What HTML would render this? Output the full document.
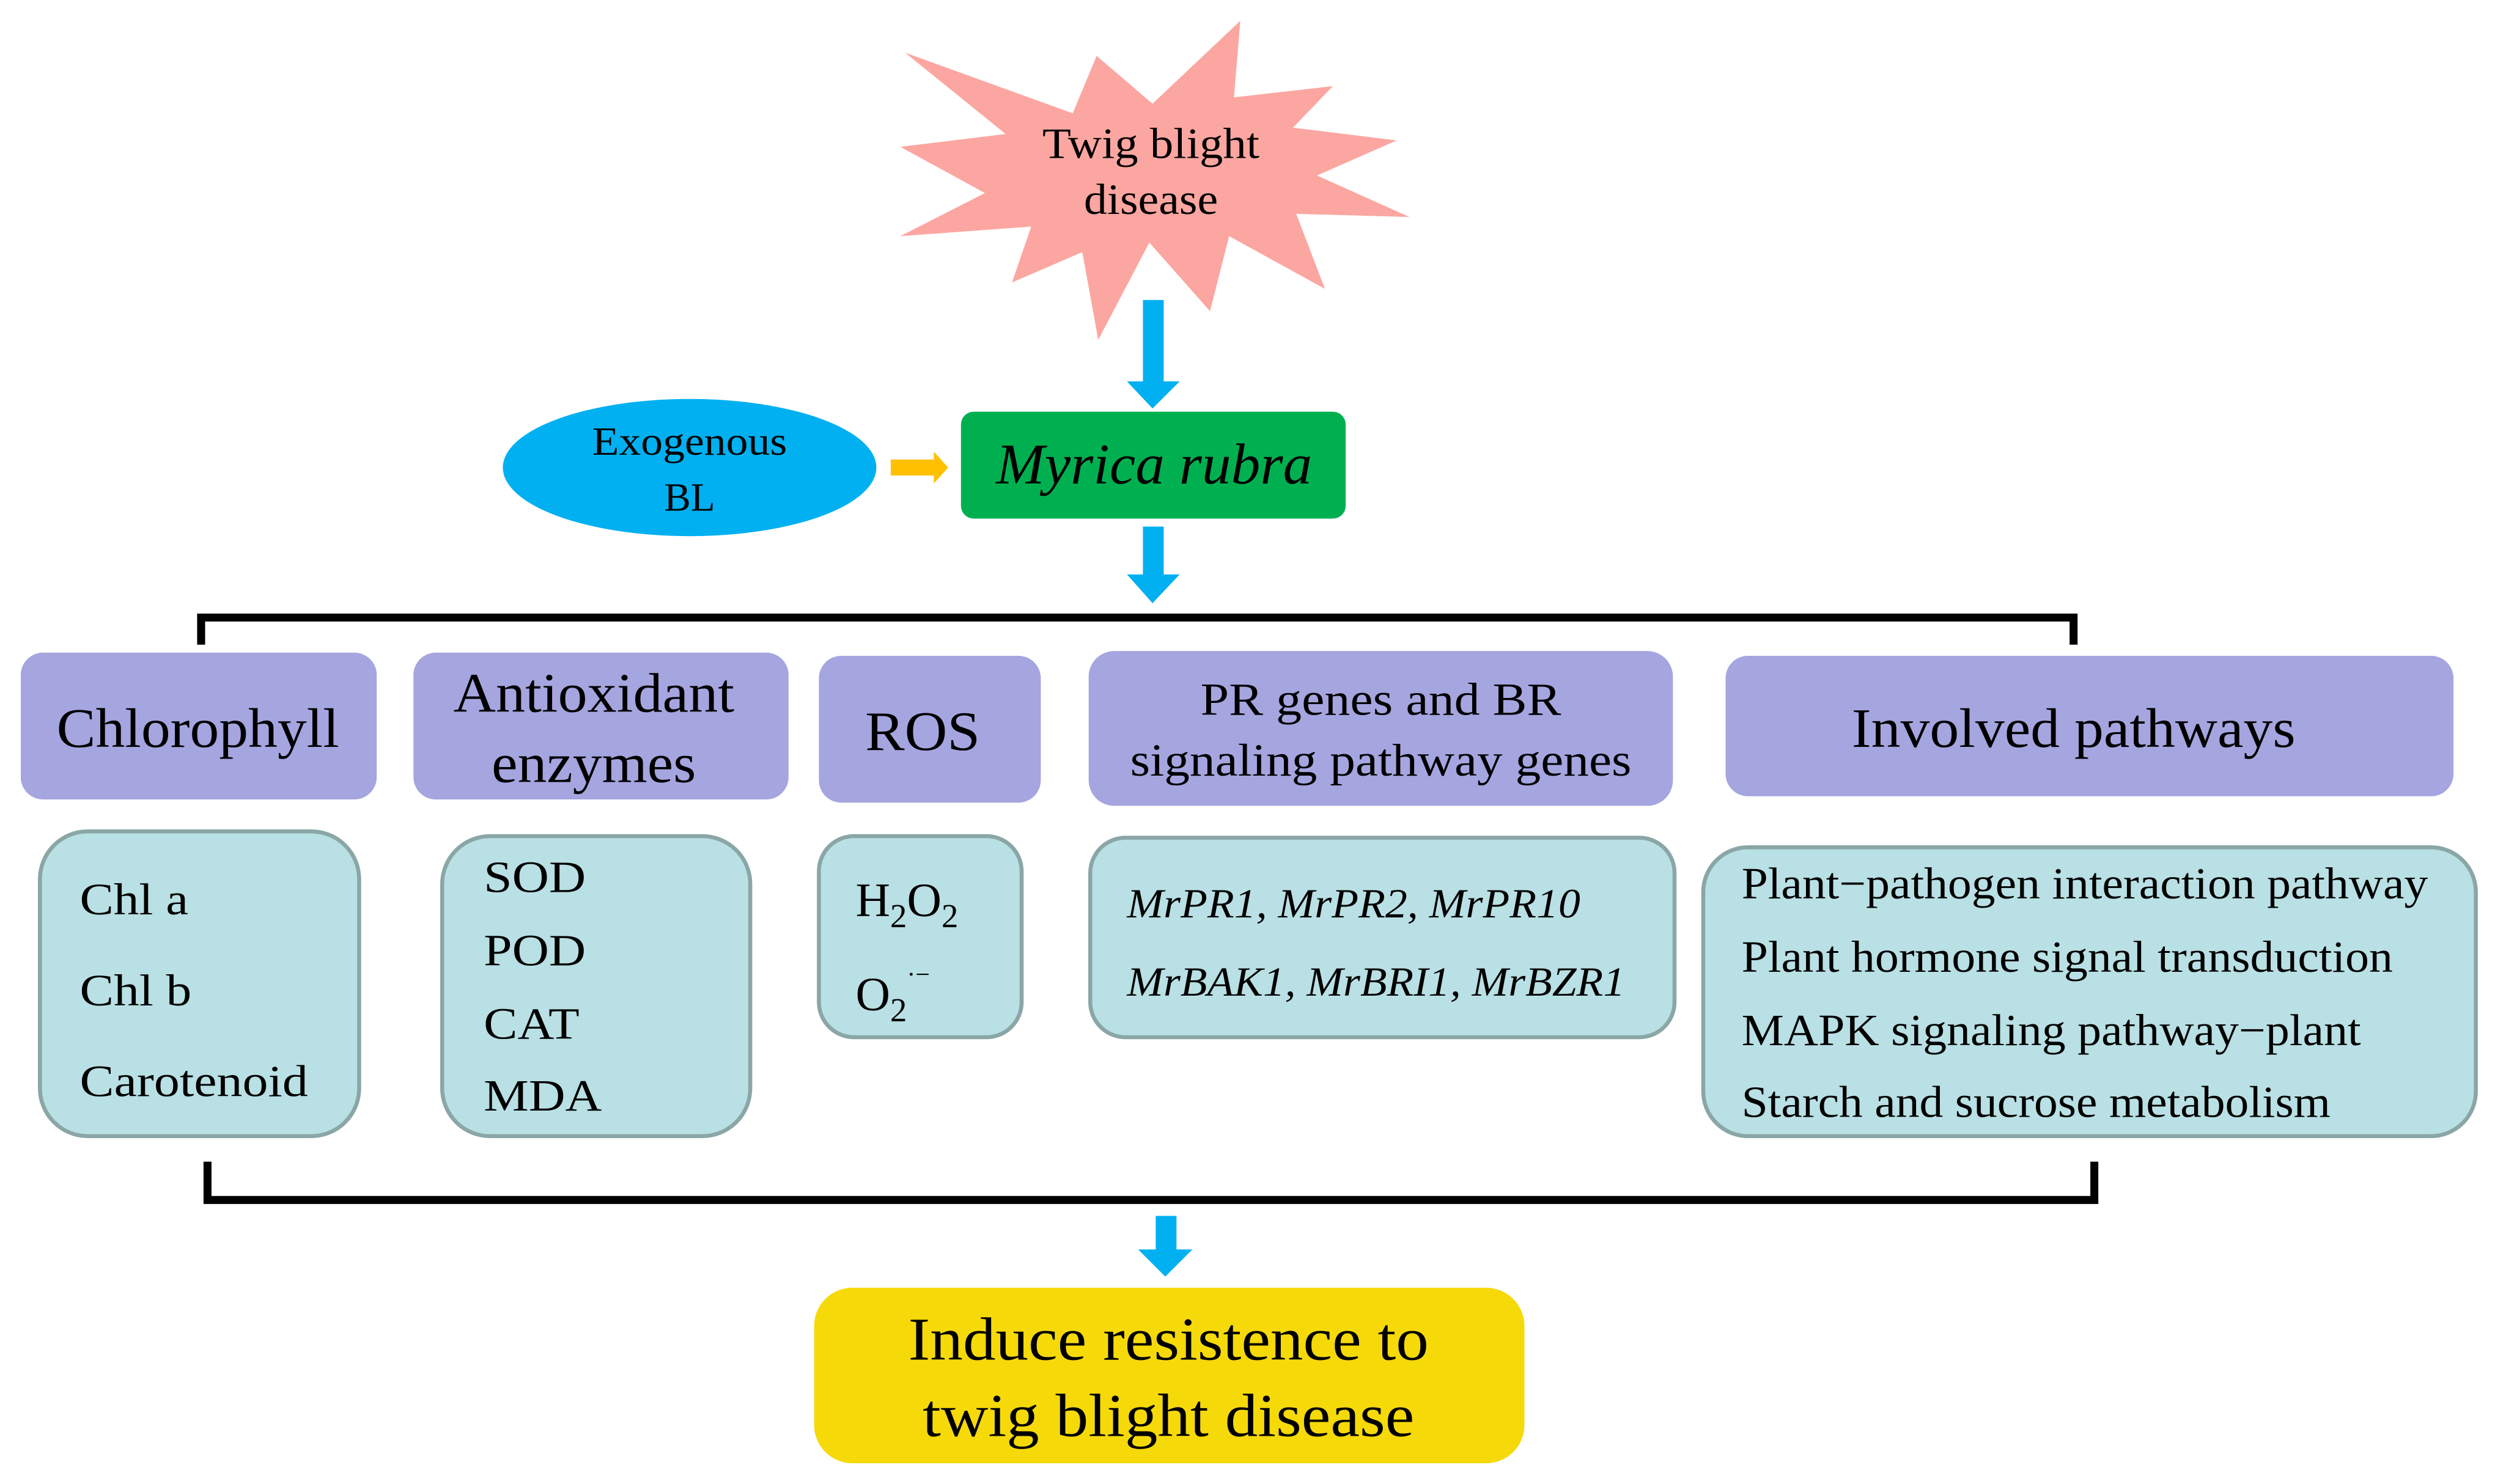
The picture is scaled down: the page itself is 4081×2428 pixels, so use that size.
<!DOCTYPE html>
<html><head><meta charset="utf-8"><style>
html,body{margin:0;padding:0;background:#fff;}
svg{display:block;}
svg text{font-family:"Liberation Serif","Times New Roman",Times,serif;fill:#000;}
</style></head><body>
<svg width="4081" height="2428" viewBox="0 0 1563 930" preserveAspectRatio="none" xmlns="http://www.w3.org/2000/svg" font-family="Liberation Serif, Times New Roman, serif">
<polygon fill="#fca6a1" points="777,13 773,61 835,54 810,80 875,88 825,110 883,136 812,134 830,181 770,148 758,195 720,152 688,213 678,158 634,177 646,142 564,148 617,121 564,92 630,84 567,33 672,71 687,35 722,65"/>
<text x="721" y="99" font-size="27" text-anchor="middle" textLength="136" lengthAdjust="spacingAndGlyphs">Twig blight</text>
<text x="721" y="134" font-size="27" text-anchor="middle" textLength="84" lengthAdjust="spacingAndGlyphs">disease</text>
<g fill="#00b0f0">
<rect x="716" y="188" width="13" height="51"/><polygon points="706,239 739,239 722,256"/>
<rect x="716" y="330" width="13" height="31"/><polygon points="706,360 739,360 722,378"/>
<rect x="724" y="762" width="13" height="22"/><polygon points="713,783 747,783 730,800"/>
</g>
<ellipse cx="432" cy="293" rx="117" ry="43" fill="#00b0f0"/>
<text x="432" y="285" font-size="25" text-anchor="middle" textLength="122" lengthAdjust="spacingAndGlyphs">Exogenous</text>
<text x="432" y="320" font-size="25" text-anchor="middle">BL</text>
<polygon fill="#ffc000" points="558,288 585,288 585,283 594,293 585,303 585,298 558,298"/>
<rect x="602" y="258" width="241" height="67" rx="8" fill="#00b050"/>
<text x="723" y="303" font-size="36" font-style="italic" text-anchor="middle" textLength="198" lengthAdjust="spacingAndGlyphs">Myrica rubra</text>
<path d="M126,404 V387 H1299 V404" fill="none" stroke="#000" stroke-width="5"/>
<path d="M130,728 V752 H1312 V728" fill="none" stroke="#000" stroke-width="5"/>
<g fill="#a5a5e0">
<rect x="13" y="409" width="223" height="92" rx="14"/>
<rect x="259" y="409" width="235" height="92" rx="14"/>
<rect x="513" y="411" width="139" height="92" rx="14"/>
<rect x="682" y="408" width="366" height="97" rx="16"/>
<rect x="1081" y="411" width="456" height="88" rx="14"/>
</g>
<g font-size="35" text-anchor="middle">
<text x="124" y="468" textLength="177" lengthAdjust="spacingAndGlyphs">Chlorophyll</text>
<text x="372" y="446" textLength="176" lengthAdjust="spacingAndGlyphs">Antioxidant</text>
<text x="372" y="490" textLength="128" lengthAdjust="spacingAndGlyphs">enzymes</text>
<text x="578" y="470" textLength="72" lengthAdjust="spacingAndGlyphs">ROS</text>
<text x="1299" y="468" textLength="278" lengthAdjust="spacingAndGlyphs">Involved pathways</text>
</g>
<text x="865" y="448" font-size="29" text-anchor="middle" textLength="226" lengthAdjust="spacingAndGlyphs">PR genes and BR</text>
<text x="865" y="486" font-size="29" text-anchor="middle" textLength="314" lengthAdjust="spacingAndGlyphs">signaling pathway genes</text>
<g fill="#b9e0e4" stroke="#8aa6a6" stroke-width="2.5">
<rect x="25" y="521" width="200" height="191" rx="30"/>
<rect x="277" y="524" width="193" height="188" rx="30"/>
<rect x="513" y="524" width="127" height="126" rx="22"/>
<rect x="683" y="525" width="366" height="125" rx="22"/>
<rect x="1067" y="531" width="484" height="181" rx="28"/>
</g>
<g font-size="28">
<text x="50" y="573" textLength="68" lengthAdjust="spacingAndGlyphs">Chl a</text>
<text x="50" y="630" textLength="70" lengthAdjust="spacingAndGlyphs">Chl b</text>
<text x="50" y="687" textLength="143" lengthAdjust="spacingAndGlyphs">Carotenoid</text>
<text x="303" y="559" textLength="64" lengthAdjust="spacingAndGlyphs">SOD</text>
<text x="303" y="605" textLength="64" lengthAdjust="spacingAndGlyphs">POD</text>
<text x="303" y="651" textLength="60" lengthAdjust="spacingAndGlyphs">CAT</text>
<text x="303" y="696" textLength="74" lengthAdjust="spacingAndGlyphs">MDA</text>
<text x="536" y="574" font-size="30">H<tspan font-size="21" dy="7">2</tspan><tspan dy="-7">O</tspan><tspan font-size="21" dy="7">2</tspan></text>
<text x="536" y="633" font-size="30">O<tspan font-size="21" dy="7">2</tspan><tspan font-size="16" dy="-24">·−</tspan></text>
<text x="1091" y="563" textLength="430" lengthAdjust="spacingAndGlyphs">Plant−pathogen interaction pathway</text>
<text x="1091" y="609" textLength="408" lengthAdjust="spacingAndGlyphs">Plant hormone signal transduction</text>
<text x="1091" y="655" textLength="388" lengthAdjust="spacingAndGlyphs">MAPK signaling pathway−plant</text>
<text x="1091" y="700" textLength="369" lengthAdjust="spacingAndGlyphs">Starch and sucrose metabolism</text>
</g>
<g font-size="26" font-style="italic">
<text x="706" y="575" textLength="284" lengthAdjust="spacingAndGlyphs">MrPR1, MrPR2, MrPR10</text>
<text x="706" y="624" textLength="312" lengthAdjust="spacingAndGlyphs">MrBAK1, MrBRI1, MrBZR1</text>
</g>
<rect x="510" y="807" width="445" height="110" rx="24" fill="#f6d909"/>
<text x="732" y="852" font-size="38" text-anchor="middle" textLength="326" lengthAdjust="spacingAndGlyphs">Induce resistence to</text>
<text x="732" y="900" font-size="38" text-anchor="middle" textLength="308" lengthAdjust="spacingAndGlyphs">twig blight disease</text>
</svg>
</body></html>
